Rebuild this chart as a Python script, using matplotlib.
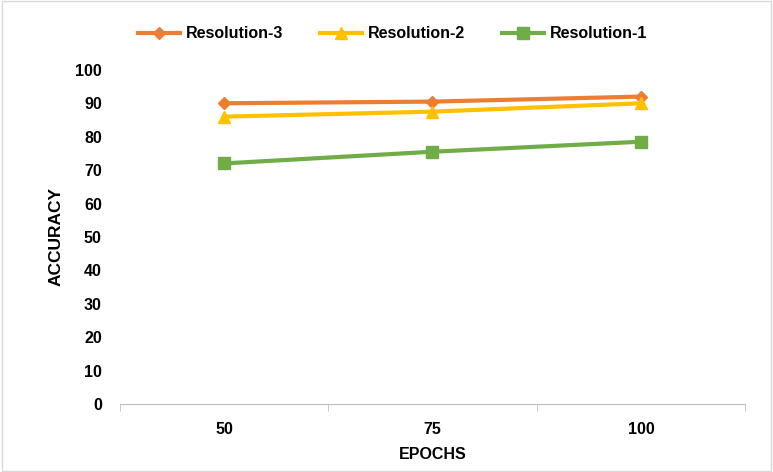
import numpy as np
import matplotlib.pyplot as plt

plt.rcParams['font.family'] = ['Liberation Sans', 'DejaVu Sans']
plt.rcParams['font.weight'] = 'bold'

epochs = ['50', '75', '100']
res3 = [90, 90.5, 92]
res2 = [86, 87.5, 90]
res1 = [72, 75.5, 78.5]

fig = plt.figure(figsize=(7.73, 4.72), dpi=100)
ax = fig.add_axes([0.155, 0.144, 0.809, 0.708])

x = np.arange(len(epochs))
ax.plot(x, res3, color='#ED7D31', lw=3, marker='D', ms=6, label='Resolution-3')
ax.plot(x, res2, color='#FFC000', lw=3, marker='^', ms=8, label='Resolution-2')
ax.plot(x, res1, color='#70AD47', lw=3, marker='s', ms=8, label='Resolution-1')

ax.set_xlim(-0.5, len(epochs) - 0.5)
ax.set_ylim(0, 100)
ax.set_yticks(range(0, 101, 10))
ax.set_xticks(x)
ax.set_xticklabels(epochs)
ax.set_xticks(np.arange(-0.5, len(epochs)), minor=True)
ax.tick_params(axis='x', which='major', length=0, pad=13, labelsize=11.5)
ax.tick_params(axis='x', which='minor', length=5, color='#BFBFBF', direction='out')
ax.tick_params(axis='y', length=0, pad=13, labelsize=11.5)
for s in ['top', 'right', 'left']:
    ax.spines[s].set_visible(False)
ax.spines['bottom'].set_color('#BFBFBF')

ax.set_xlabel('EPOCHS', fontsize=11.5, fontweight='bold', labelpad=7)
ax.set_ylabel('ACCURACY', fontsize=12.5, fontweight='bold', labelpad=8)

fig.legend(loc='upper center', bbox_to_anchor=(0.508, 0.975), ncol=3, frameon=False,
           fontsize=11.5, handlelength=2.6, handletextpad=0.4, columnspacing=2.3)

border = plt.Rectangle((0.002, 0.002), 0.996, 0.996, transform=fig.transFigure,
                       fill=False, edgecolor='#D9D9D9', lw=1)
fig.patches.append(border)

fig.savefig('out.png', dpi=100)
